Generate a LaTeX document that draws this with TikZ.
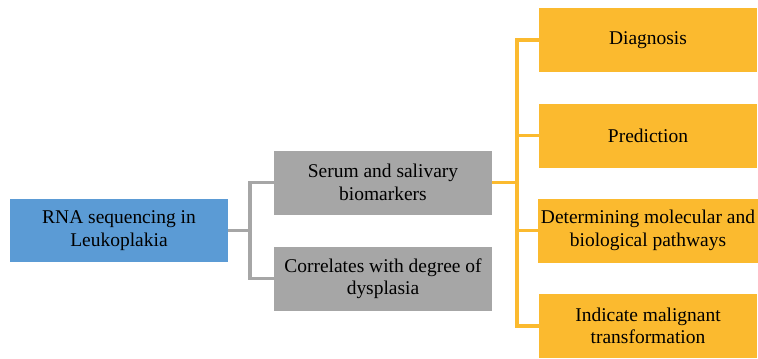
\documentclass[tikz,border=0pt]{standalone}
\usepackage{fontspec}
\setmainfont{Liberation Serif}
\usepackage{tikz}
\definecolor{rootblue}{RGB}{91,155,213}
\definecolor{leafgray}{RGB}{166,166,166}
\definecolor{leaforange}{RGB}{251,186,47}
\tikzset{
	box/.style={minimum width=218*0.75pt, inner sep=2pt, align=center, font=\fontsize{14.6}{16.8}\selectfont},
	rootbox/.style={box, fill=rootblue, minimum height=63*0.75pt},
	graybox/.style={box, fill=leafgray, minimum height=64*0.75pt},
	orangebox/.style={box, fill=leaforange, minimum height=64*0.75pt},
	grayline/.style={line width=2.4pt, color=leafgray},
	orangeline/.style={line width=2.4pt, color=leaforange}
}

\begin{document}
\begin{tikzpicture}[x=0.75pt, y=-0.75pt]
			%%%%% START %%%%%
			
			\useasboundingbox (0, 0) rectangle (758, 358);
			
			\node[rootbox] (rna) at (119, 230.5) {RNA sequencing in\\Leukoplakia};
			
			\node[graybox] (serum) at (383, 182.5) {Serum and salivary\\biomarkers};
			\node[graybox] (corr) at (383, 278.5) {Correlates with degree of\\dysplasia};
			
			\node[orangebox] (diag) at (648, 40) {Diagnosis};
			\node[orangebox] (pred) at (648, 135.5) {Prediction};
			\node[orangebox] (path) at (648, 230.5) {Determining molecular and\\biological pathways};
			\node[orangebox] (malig) at (648, 326) {Indicate malignant\\transformation};
			
			\coordinate (gj) at (250, 230.5);
			\coordinate (oj) at (517, 182.5);
			
			\draw[grayline] (rna.east) -- (gj);
			\draw[grayline] (serum.west) -| (gj) |- (corr.west);
			
			\draw[orangeline] (serum.east) -- (oj);
			\draw[orangeline] (diag.west) -| (oj) |- (malig.west);
			\draw[orangeline] (oj |- pred.west) -- (pred.west);
			\draw[orangeline] (oj |- path.west) -- (path.west);
			
			%%%%% END %%%%%
		\end{tikzpicture}
\end{document}
